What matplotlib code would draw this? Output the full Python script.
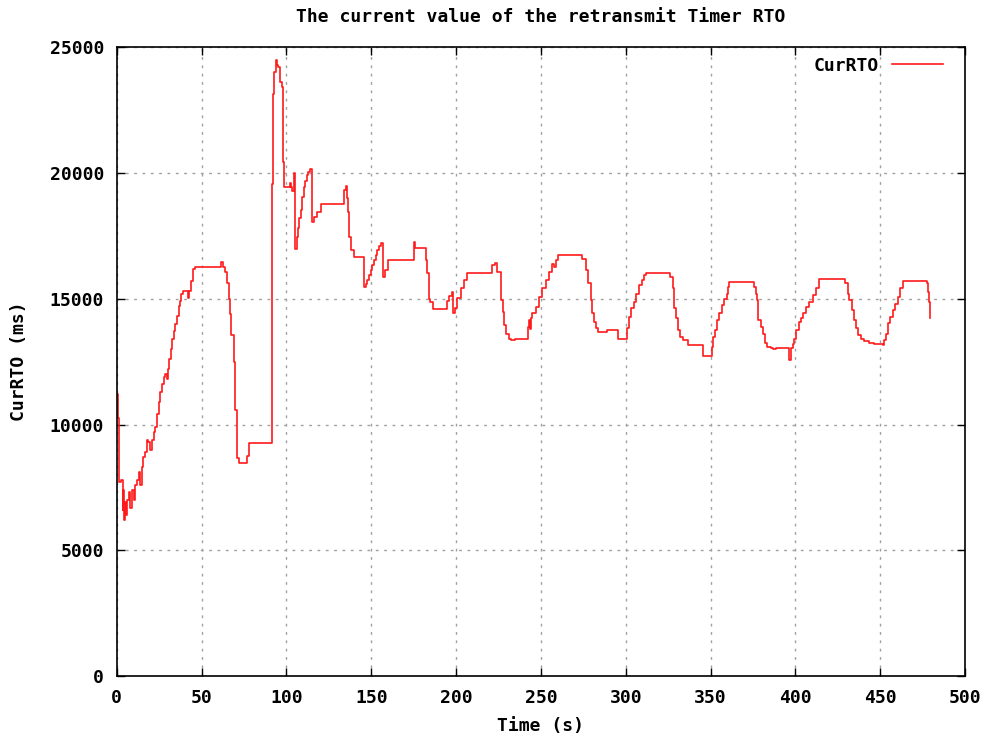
import matplotlib
matplotlib.use("Agg")
import matplotlib.pyplot as plt

# time (s) and current RTO (ms), drawn as steps
time_s = [0.3, 0.6, 1.5, 2.5, 3.5, 4.0, 4.5, 5.0, 5.5, 6.0,
          7.0, 8.0, 9.0, 10.0, 11.0, 12.0, 13.0, 14.0, 14.8, 15.5,
          16.7, 17.7, 18.7, 19.7,
          21.0, 22.0, 22.7, 23.7, 24.7, 25.7, 26.7, 27.7, 28.7, 29.7,
          30.5, 31.1, 32.0, 32.8, 33.7, 34.5, 35.5, 36.5, 37.2, 38.0,
          39.1, 42.0, 42.6, 43.2, 44.0, 45.0, 46.3,
          61.5, 62.8, 64.0, 65.0, 66.0, 66.8, 67.5, 69.0, 70.0, 71.0,
          72.0, 76.6, 77.8,
          91.3, 92.3, 93.0, 93.8, 94.5, 95.3, 96.2, 97.5, 98.1, 98.5,
          102.0, 102.6, 103.4, 104.4, 105.0, 106.0, 106.8, 107.6, 108.4, 109.4,
          110.4, 111.2, 112.0, 113.0, 114.0, 115.0, 116.4, 118.3, 120.3,
          134.0, 135.0, 135.8, 136.6, 137.2, 138.2, 139.8, 145.7, 147.0, 147.7,
          148.7, 149.7, 150.7, 151.7, 152.7, 153.7, 154.7, 155.7, 156.7, 158.0,
          159.7, 175.1, 176.0, 176.8, 182.2, 182.6, 184.2, 184.6, 186.6, 187.0,
          194.6, 196.0, 197.4, 198.1, 199.1, 200.7, 202.7, 204.6, 206.6, 221.4,
          222.8, 224.0, 226.4, 227.4, 228.4, 229.4, 231.4, 232.1, 234.9, 242.1,
          243.0, 243.6, 244.2, 245.0, 247.0, 248.9, 250.9, 252.9, 254.8, 256.8,
          257.8, 258.8, 260.2,
          274.3, 276.3, 277.8, 279.3, 280.3, 281.3, 282.3, 283.8, 289.1, 295.6,
          300.9, 301.8, 302.8, 304.8, 306.3, 307.8, 309.4, 310.8, 311.8, 326.1,
          327.7, 328.7, 329.7, 330.6, 332.0, 333.6, 336.6,
          345.3, 350.6, 351.6, 352.6, 353.6, 355.1, 356.5, 357.9, 359.5, 360.5,
          361.1, 375.6, 376.5, 377.2, 378.2, 379.5, 380.7, 382.1, 383.4, 385.4,
          387.0, 388.5, 396.4, 397.2, 398.3, 399.3,
          400.3, 401.9, 403.2, 404.6, 406.2, 408.2, 410.1, 412.1, 413.6, 429.1,
          430.7, 431.7, 433.3, 434.7, 435.7, 437.0, 438.6, 440.6, 443.5, 446.5,
          451.4, 452.3, 453.3, 454.3, 455.7, 457.3, 458.8, 460.2, 461.6, 463.1,
          477.3, 478.3, 478.8, 479.4]
cur_rto = [11200, 10250, 7700, 7800, 6600, 7400, 6200, 6900, 6400, 7000,
           7300, 6700, 7400, 7000, 7600, 7800, 8100, 7600, 8300, 8700,
           8900, 9400, 9300, 9000,
           9400, 9700, 9900, 10400, 10900, 11300, 11600, 11900, 12000, 11800,
           12200, 12600, 13000, 13400, 13700, 14000, 14300, 14700, 14900, 15200,
           15300, 15050, 15300, 15300, 15700, 16200, 16270,
           16470, 16270, 16070, 15610, 15000, 14400, 13550, 12500, 10570, 8660,
           8470, 8740, 9270,
           19580, 23160, 24020, 24480, 24300, 24230, 23620, 23420, 20440, 19450,
           19600, 19450, 19300, 19990, 17000, 17460, 17800, 18200, 18520, 19050,
           19450, 19700, 19910, 20050, 20180, 18060, 18250, 18450, 18760,
           19320, 19490, 19000, 18450, 17460, 16930, 16670, 15470, 15600, 15730,
           15930, 16140, 16330, 16530, 16730, 16930, 17100, 17200, 15870, 16140,
           16530, 17260, 17040, 17040, 16530, 16020, 15010, 14880, 14610, 14610,
           14930, 15100, 15270, 14420, 14620, 15020, 15410, 15740, 16030, 16340,
           16440, 16060, 14940, 14480, 13950, 13620, 13420, 13360, 13420, 13880,
           14150, 13800, 14250, 14420, 14680, 15080, 15410, 15740, 16070, 16400,
           16270, 16530, 16730,
           16600, 16140, 15610, 14940, 14420, 14080, 13820, 13680, 13750, 13420,
           13820, 14280, 14620, 14880, 15210, 15540, 15740, 15940, 16030, 15870,
           15410, 14620, 14220, 13750, 13490, 13360, 13160,
           12720, 13090, 13490, 13750, 14150, 14420, 14750, 15010, 15210, 15480,
           15650, 15480, 15200, 14950, 14150, 13890, 13620, 13230, 13090, 13030,
           12990, 13050, 12560, 13030, 13200, 13420,
           13750, 14080, 14220, 14420, 14680, 14880, 15140, 15410, 15770, 15610,
           15210, 14950, 14550, 14150, 13820, 13550, 13420, 13330, 13250, 13190,
           13160, 13360, 13620, 14020, 14280, 14550, 14810, 15080, 15410, 15710,
           15610, 15280, 14880, 14220]

x_ticks = [0, 50, 100, 150, 200, 250, 300, 350, 400, 450, 500]
y_ticks = [0, 5000, 10000, 15000, 20000, 25000]

plt.rcParams['font.family'] = ['DejaVu Sans Mono']
plt.rcParams['font.weight'] = 'bold'
fs = 13

fig = plt.figure(figsize=(9.87, 7.36), dpi=100)
ax = fig.add_axes([0.1182, 0.0815, 0.8597, 0.8542])

ax.plot(time_s, cur_rto, drawstyle='steps-post', color='#ff1a1a', lw=1.2, label='CurRTO')

ax.set_xlim(0, 500)
ax.set_ylim(0, 25000)
ax.set_xticks(x_ticks)
ax.set_yticks(y_ticks)
ax.tick_params(direction='in', length=6, width=1, top=True, right=True,
               labelsize=fs, pad=9)
for lab in ax.get_xticklabels() + ax.get_yticklabels():
    lab.set_fontweight('bold')
ax.grid(True, color='#a0a0a0', linestyle=(0, (2, 4)), lw=1)
for s in ax.spines.values():
    s.set_linewidth(1.2)

fig.text(0.548, 0.977, 'The current value of the retransmit Timer RTO',
         ha='center', va='center', fontsize=fs, fontweight='bold')
fig.text(0.548, 0.013, 'Time (s)', ha='center', va='center', fontsize=fs, fontweight='bold')
fig.text(0.019, 0.509, 'CurRTO (ms)', ha='center', va='center', rotation=90,
         fontsize=fs, fontweight='bold')

leg = ax.legend(loc='upper right', bbox_to_anchor=(0.974, 0.985), frameon=False,
                markerfirst=False, handlelength=2.83, handletextpad=0.72,
                fontsize=fs, borderaxespad=0, borderpad=0)
for t in leg.get_texts():
    t.set_fontweight('bold')

fig.savefig('out.png', dpi=100)
